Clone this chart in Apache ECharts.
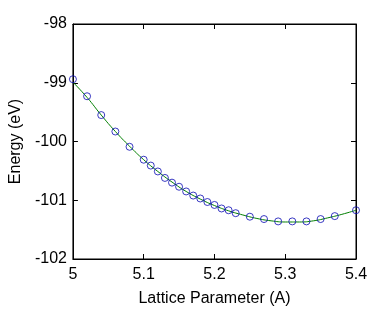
<!DOCTYPE html>
<html>
<head>
<meta charset="utf-8">
<script src="https://cdn.jsdelivr.net/npm/echarts@6/dist/echarts.min.js"></script>
<style>
  html, body { margin: 0; padding: 0; background: #fff; }
  #chart { width: 392px; height: 312px; }
</style>
</head>
<body>
<div id="chart"></div>
<script>
// measured points (circles)
var latticeA = [5.00, 5.02, 5.04, 5.06, 5.08, 5.10, 5.11, 5.12, 5.13, 5.14, 5.15, 5.16, 5.17, 5.18,
  5.19, 5.20, 5.21, 5.22, 5.23, 5.25, 5.27, 5.29, 5.31, 5.33, 5.35, 5.37, 5.40]
var energyEV = [-98.94, -99.23, -99.55, -99.83, -100.09, -100.31, -100.41, -100.51, -100.62, -100.70,
  -100.77, -100.85, -100.92, -100.97, -101.03, -101.08, -101.14, -101.17, -101.22, -101.28,
  -101.32, -101.36, -101.36, -101.36, -101.32, -101.27, -101.17]
// fitted curve (green line)
var fitA = [5.00, 5.02, 5.04, 5.06, 5.08, 5.10, 5.12, 5.14, 5.16, 5.18, 5.20, 5.22, 5.24, 5.26,
  5.28, 5.30, 5.32, 5.34, 5.36, 5.38, 5.40]
var fitEV = [-98.99, -99.25, -99.55, -99.83, -100.08, -100.31, -100.51, -100.69, -100.85, -100.98,
  -101.09, -101.18, -101.25, -101.31, -101.35, -101.37, -101.37, -101.35, -101.30, -101.24, -101.17]

var font = '"Liberation Sans", Arial, sans-serif'

var chart = echarts.init(document.getElementById('chart'))

function pairs (xs, ys) {
  return xs.map(function (x, i) { return [x, ys[i]] })
}

// matlab style: box axes, ticks pointing inwards on all four sides
function axis (extra) {
  return Object.assign({
    type: 'value',
    gridIndex: 0,
    axisLine: { show: true, onZero: false, lineStyle: { color: '#000', width: 1 } },
    axisTick: { show: true, inside: true, length: 5, lineStyle: { color: '#000' } },
    splitLine: { show: false }
  }, extra)
}

chart.setOption({
  animation: false,
  backgroundColor: '#fff',
  grid: { left: 70, right: 36, top: 24, bottom: 50, containLabel: false,
    show: true, borderColor: '#000', borderWidth: 1 },
  xAxis: [
    axis({
      min: 5, max: 5.4, interval: 0.1,
      name: 'Lattice Parameter (A)',
      nameLocation: 'middle',
      nameGap: 32,
      nameTextStyle: { color: '#000', fontSize: 16, fontFamily: font },
      axisLabel: { color: '#000', fontSize: 16, fontFamily: font, margin: 8 }
    }),
    axis({
      position: 'top', min: 5, max: 5.4, interval: 0.1,
      axisLabel: { show: false }
    })
  ],
  yAxis: [
    axis({
      min: -102, max: -98, interval: 1,
      name: 'Energy (eV)',
      nameLocation: 'middle',
      nameGap: 43,
      nameTextStyle: { color: '#000', fontSize: 16, fontFamily: font },
      axisLabel: { color: '#000', fontSize: 16, fontFamily: font, margin: 6 }
    }),
    axis({
      position: 'right', min: -102, max: -98, interval: 1,
      axisLabel: { show: false }
    })
  ],
  series: [
    {
      name: 'fit',
      type: 'line',
      xAxisIndex: 1,
      yAxisIndex: 1,
      data: pairs(fitA, fitEV),
      smooth: true,
      showSymbol: false,
      lineStyle: { color: '#007f00', width: 1 },
      z: 2
    },
    {
      name: 'data',
      type: 'scatter',
      xAxisIndex: 0,
      yAxisIndex: 0,
      data: pairs(latticeA, energyEV),
      symbol: 'circle',
      symbolSize: 7,
      itemStyle: { color: 'rgba(0,0,0,0)', borderColor: '#0a0ab4', borderWidth: 1 },
      z: 3
    }
  ]
})
</script>
</body>
</html>
